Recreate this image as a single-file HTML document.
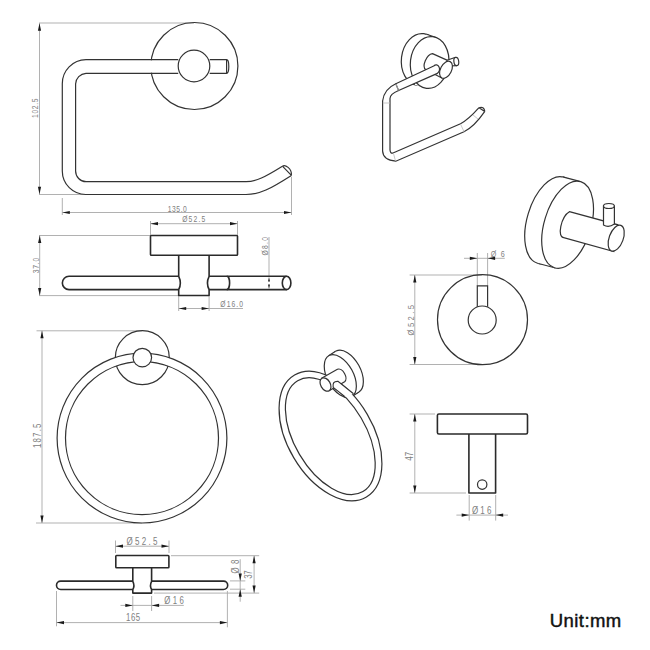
<!DOCTYPE html>
<html><head><meta charset="utf-8">
<style>
html,body{margin:0;padding:0;background:#fff;width:650px;height:650px;overflow:hidden}
svg{display:block}
.k{fill:none;stroke:#333;stroke-width:1.2}
.kb{fill:none;stroke:#2a2a2a;stroke-width:1.6;stroke-linejoin:round}
.w{fill:#fff}
.t{font-family:"Liberation Sans",sans-serif;font-size:8px;fill:#808080}
.u{font-family:"Liberation Sans",sans-serif;font-size:18.5px;fill:#111;stroke:#111;stroke-width:0.45}
</style></head>
<body>
<svg width="650" height="650" viewBox="0 0 650 650">

<path d="M39,23 L194,23" fill="none" stroke="#a8a8a8" stroke-width="0.9"/>
<path d="M39,194.5 L86,194.5" fill="none" stroke="#a8a8a8" stroke-width="0.9"/>
<path d="M62.3,198 L62.3,215" fill="none" stroke="#a8a8a8" stroke-width="0.9"/>
<path d="M291.5,177 L291.5,215" fill="none" stroke="#a8a8a8" stroke-width="0.9"/>
<path d="M39.5,23.3 L39.5,194.3" fill="none" stroke="#a8a8a8" stroke-width="0.9"/>
<path d="M39.50,23.30 L41.10,30.80 L37.90,30.80 Z" fill="#1a1a1a"/>
<path d="M39.50,194.30 L37.90,186.80 L41.10,186.80 Z" fill="#1a1a1a"/>
<path d="M62.3,212.5 L291.5,212.5" fill="none" stroke="#a8a8a8" stroke-width="0.9"/>
<path d="M62.30,212.50 L69.80,210.90 L69.80,214.10 Z" fill="#1a1a1a"/>
<path d="M291.50,212.50 L284.00,214.10 L284.00,210.90 Z" fill="#1a1a1a"/>
<text transform="translate(38.3,108.3) rotate(-90) scale(0.78,1)" x="0" y="0" text-anchor="middle" textLength="24.87" lengthAdjust="spacing" class="t" style="font-size:8.64px">102.5</text>
<text transform="translate(177.3,211.5) scale(0.78,1)" x="0" y="0" text-anchor="middle" textLength="24.36" lengthAdjust="spacing" class="t" style="font-size:8.64px">135.0</text>
<circle class="k" cx="194.4" cy="66" r="43.5"/>
<rect x="140" y="60.3" width="40" height="12.4" fill="#fff"/>
<path class="k" d="M178.2,59.7 H86 A24,24 0 0 0 62.3,84 V171 A23.5,23.5 0 0 0 86,194.5 H246 C260,194.5 270,189 291.4,175.4"/>
<path class="k" d="M178.2,73.3 H86 A11,11 0 0 0 75.6,84 V171 A10.7,10.7 0 0 0 86,181.7 H246 C256,181.7 265,177 282.4,166.2"/>
<path class="k" d="M282.4,166.2 L291.4,175.4 M282.4,166.2 C285,164.5 292,168 291.4,175.4"/>
<circle class="k w" cx="194" cy="66" r="15.8"/>
<path class="k" d="M209.7,59.7 H226.6 M209.7,73.3 H226.6 M226.6,59.7 V73.3 M226.6,59.7 A2.2,6.8 0 0 1 226.6,73.3"/>

<path d="M150.5,221 L150.5,236" fill="none" stroke="#a8a8a8" stroke-width="0.9"/>
<path d="M237.5,221 L237.5,236" fill="none" stroke="#a8a8a8" stroke-width="0.9"/>
<path d="M39,235.5 L150.5,235.5" fill="none" stroke="#a8a8a8" stroke-width="0.9"/>
<path d="M39,295.6 L178.7,295.6" fill="none" stroke="#a8a8a8" stroke-width="0.9"/>
<path d="M178.7,296 L178.7,311" fill="none" stroke="#a8a8a8" stroke-width="0.9"/>
<path d="M209.1,296 L209.1,311" fill="none" stroke="#a8a8a8" stroke-width="0.9"/>
<path d="M150.5,223.7 L237.5,223.7" fill="none" stroke="#a8a8a8" stroke-width="0.9"/>
<path d="M150.50,223.70 L158.00,222.10 L158.00,225.30 Z" fill="#1a1a1a"/>
<path d="M237.50,223.70 L230.00,225.30 L230.00,222.10 Z" fill="#1a1a1a"/>
<path d="M39.7,235.5 L39.7,295.6" fill="none" stroke="#a8a8a8" stroke-width="0.9"/>
<path d="M39.70,235.50 L41.30,243.00 L38.10,243.00 Z" fill="#1a1a1a"/>
<path d="M39.70,295.60 L38.10,288.10 L41.30,288.10 Z" fill="#1a1a1a"/>
<path d="M178.7,308.5 L209.1,308.5" fill="none" stroke="#a8a8a8" stroke-width="0.9"/>
<path d="M178.70,308.50 L186.20,306.90 L186.20,310.10 Z" fill="#1a1a1a"/>
<path d="M209.10,308.50 L201.60,310.10 L201.60,306.90 Z" fill="#1a1a1a"/>
<path d="M209.1,308.5 L243,308.5" fill="none" stroke="#a8a8a8" stroke-width="0.9"/>
<path d="M269,237 L269,276.5" fill="none" stroke="#a8a8a8" stroke-width="0.9"/>
<path d="M269.00,277.00 L270.00,281.60 L268.00,281.60 Z" fill="#1a1a1a"/>
<path d="M269.00,289.00 L268.00,284.40 L270.00,284.40 Z" fill="#1a1a1a"/>
<text transform="translate(193.7,222.3) scale(0.78,1)" x="0" y="0" text-anchor="middle" textLength="29.49" lengthAdjust="spacing" class="t" style="font-size:8.64px">Ø52.5</text>
<text transform="translate(38.8,265.5) rotate(-90) scale(0.78,1)" x="0" y="0" text-anchor="middle" textLength="19.62" lengthAdjust="spacing" class="t" style="font-size:8.64px">37.0</text>
<text transform="translate(268.4,246.2) rotate(-90) scale(0.78,1)" x="0" y="0" text-anchor="middle" textLength="23.72" lengthAdjust="spacing" class="t" style="font-size:8.64px">Ø8.0</text>
<text transform="translate(231.7,307.3) scale(0.78,1)" x="0" y="0" text-anchor="middle" textLength="29.10" lengthAdjust="spacing" class="t" style="font-size:8.64px">Ø16.0</text>
<rect class="kb" x="150.5" y="235.5" width="87" height="19.7" rx="0.8"/>
<path class="kb" d="M178.7,255.2 V276.3 Q182,283 178.7,289.6 V295.5 H209.1 V289.6 Q205.8,283 209.1,276.3 V255.2"/>
<path class="kb" d="M178.7,276.3 H69 A6.65,6.65 0 0 0 69,289.6 H178.7"/>
<path class="kb" d="M209.1,276.3 H286.6 M209.1,289.6 H286.6"/>
<ellipse class="kb" cx="286.6" cy="282.95" rx="4.3" ry="6.65"/>
<path class="kb" d="M226.8,276.3 A2.8,6.65 0 0 1 226.8,289.6"/>

<path d="M409.6,275 L482,275" fill="none" stroke="#a8a8a8" stroke-width="0.9"/>
<path d="M409.6,364.5 L482,364.5" fill="none" stroke="#a8a8a8" stroke-width="0.9"/>
<path d="M477.3,253 L477.3,286" fill="none" stroke="#a8a8a8" stroke-width="0.9"/>
<path d="M487.6,253 L487.6,286" fill="none" stroke="#a8a8a8" stroke-width="0.9"/>
<path d="M414.8,275 L414.8,364.5" fill="none" stroke="#a8a8a8" stroke-width="0.9"/>
<path d="M414.80,275.00 L416.40,282.50 L413.20,282.50 Z" fill="#1a1a1a"/>
<path d="M414.80,364.50 L413.20,357.00 L416.40,357.00 Z" fill="#1a1a1a"/>
<path d="M464,258.3 L504.8,258.3" fill="none" stroke="#a8a8a8" stroke-width="0.9"/>
<path d="M477.30,258.30 L469.80,259.90 L469.80,256.70 Z" fill="#1a1a1a"/>
<path d="M487.60,258.30 L495.10,256.70 L495.10,259.90 Z" fill="#1a1a1a"/>
<text transform="translate(414.2,320.2) rotate(-90) scale(0.78,1)" x="0" y="0" text-anchor="middle" textLength="38.97" lengthAdjust="spacing" class="t" style="font-size:9.72px">Ø52.5</text>
<text transform="translate(497.8,256.5) scale(0.78,1)" x="0" y="0" text-anchor="middle" textLength="17.95" lengthAdjust="spacing" class="t" style="font-size:9.18px">Ø6</text>
<circle class="k" cx="482.5" cy="319.7" r="45"/>
<circle class="k" cx="482.2" cy="320" r="14"/>
<path class="k" d="M477.3,306.8 V285.9 H487.6 V306.8"/>

<path d="M409.6,414 L435,414" fill="none" stroke="#a8a8a8" stroke-width="0.9"/>
<path d="M409.6,493 L466,493" fill="none" stroke="#a8a8a8" stroke-width="0.9"/>
<path d="M469.2,495 L469.2,520.6" fill="none" stroke="#a8a8a8" stroke-width="0.9"/>
<path d="M495.7,495 L495.7,520.6" fill="none" stroke="#a8a8a8" stroke-width="0.9"/>
<path d="M414.8,414 L414.8,493" fill="none" stroke="#a8a8a8" stroke-width="0.9"/>
<path d="M414.80,414.00 L416.40,421.50 L413.20,421.50 Z" fill="#1a1a1a"/>
<path d="M414.80,493.00 L413.20,485.50 L416.40,485.50 Z" fill="#1a1a1a"/>
<path d="M456.4,515.1 L508,515.1" fill="none" stroke="#a8a8a8" stroke-width="0.9"/>
<path d="M469.20,515.10 L461.70,516.70 L461.70,513.50 Z" fill="#1a1a1a"/>
<path d="M495.70,515.10 L503.20,513.50 L503.20,516.70 Z" fill="#1a1a1a"/>
<text transform="translate(412.9,456.3) rotate(-90) scale(0.78,1)" x="0" y="0" text-anchor="middle" textLength="11.54" lengthAdjust="spacing" class="t" style="font-size:10.26px">47</text>
<text transform="translate(481.7,513.8) scale(0.78,1)" x="0" y="0" text-anchor="middle" textLength="24.87" lengthAdjust="spacing" class="t" style="font-size:10.26px">Ø16</text>
<rect class="kb" x="437.4" y="414" width="90.1" height="20" rx="1.5"/>
<path class="kb" d="M468.9,434 V493 H495.6 V434"/>
<circle class="k" cx="482.2" cy="484.6" r="4.7"/>

<path d="M36.5,330.8 L142,330.8" fill="none" stroke="#a8a8a8" stroke-width="0.9"/>
<path d="M36,523 L142,523" fill="none" stroke="#a8a8a8" stroke-width="0.9"/>
<path d="M42,330.8 L42,523" fill="none" stroke="#a8a8a8" stroke-width="0.9"/>
<path d="M42.00,330.80 L43.60,338.30 L40.40,338.30 Z" fill="#1a1a1a"/>
<path d="M42.00,523.00 L40.40,515.50 L43.60,515.50 Z" fill="#1a1a1a"/>
<text transform="translate(40.8,435.8) rotate(-90) scale(0.78,1)" x="0" y="0" text-anchor="middle" textLength="31.15" lengthAdjust="spacing" class="t" style="font-size:10.04px">187.5</text>
<circle class="k" cx="142.3" cy="357.7" r="27"/>
<circle cx="142" cy="438.1" r="80.7" style="fill:none;stroke:#fff;stroke-width:8"/>
<circle class="k" cx="142" cy="438.1" r="84.9"/>
<circle class="k" cx="142" cy="438.1" r="76.5"/>
<circle class="k w" cx="142.3" cy="357.6" r="9.3"/>

<path d="M115.5,540.5 L115.5,553" fill="none" stroke="#a8a8a8" stroke-width="0.9"/>
<path d="M169,540.5 L169,553" fill="none" stroke="#a8a8a8" stroke-width="0.9"/>
<path d="M171,555.7 L259.2,555.7" fill="none" stroke="#a8a8a8" stroke-width="0.9"/>
<path d="M154,593.1 L259.2,593.1" fill="none" stroke="#a8a8a8" stroke-width="0.9"/>
<path d="M132.8,596 L132.8,611" fill="none" stroke="#a8a8a8" stroke-width="0.9"/>
<path d="M151.6,596 L151.6,611" fill="none" stroke="#a8a8a8" stroke-width="0.9"/>
<path d="M56.5,591 L56.5,626.3" fill="none" stroke="#a8a8a8" stroke-width="0.9"/>
<path d="M227.4,591 L227.4,627.3" fill="none" stroke="#a8a8a8" stroke-width="0.9"/>
<path d="M230,580.9 L245.3,580.9" fill="none" stroke="#a8a8a8" stroke-width="0.9"/>
<path d="M230,589.2 L245.3,589.2" fill="none" stroke="#a8a8a8" stroke-width="0.9"/>
<path d="M115.5,546.2 L169,546.2" fill="none" stroke="#a8a8a8" stroke-width="0.9"/>
<path d="M115.50,546.20 L123.00,544.60 L123.00,547.80 Z" fill="#1a1a1a"/>
<path d="M169.00,546.20 L161.50,547.80 L161.50,544.60 Z" fill="#1a1a1a"/>
<path d="M56.5,622.6 L227.4,622.6" fill="none" stroke="#a8a8a8" stroke-width="0.9"/>
<path d="M56.50,622.60 L64.00,621.00 L64.00,624.20 Z" fill="#1a1a1a"/>
<path d="M227.40,622.60 L219.90,624.20 L219.90,621.00 Z" fill="#1a1a1a"/>
<path d="M254.1,555.7 L254.1,593.1" fill="none" stroke="#a8a8a8" stroke-width="0.9"/>
<path d="M254.10,555.70 L255.70,563.20 L252.50,563.20 Z" fill="#1a1a1a"/>
<path d="M254.10,593.10 L252.50,585.60 L255.70,585.60 Z" fill="#1a1a1a"/>
<path d="M120.5,605.4 L183.8,605.4" fill="none" stroke="#a8a8a8" stroke-width="0.9"/>
<path d="M132.80,605.40 L125.30,607.00 L125.30,603.80 Z" fill="#1a1a1a"/>
<path d="M151.60,605.40 L159.10,603.80 L159.10,607.00 Z" fill="#1a1a1a"/>
<path d="M240.2,559.2 L240.2,601.7" fill="none" stroke="#a8a8a8" stroke-width="0.9"/>
<path d="M240.20,580.90 L238.60,573.40 L241.80,573.40 Z" fill="#1a1a1a"/>
<path d="M240.20,589.20 L241.80,596.70 L238.60,596.70 Z" fill="#1a1a1a"/>
<text transform="translate(142,545) scale(0.78,1)" x="0" y="0" text-anchor="middle" textLength="39.49" lengthAdjust="spacing" class="t" style="font-size:10.26px">Ø52.5</text>
<text transform="translate(174,603.5) scale(0.78,1)" x="0" y="0" text-anchor="middle" textLength="25.13" lengthAdjust="spacing" class="t" style="font-size:10.04px">Ø16</text>
<text transform="translate(133.1,620.8) scale(0.78,1)" x="0" y="0" text-anchor="middle" textLength="18.21" lengthAdjust="spacing" class="t" style="font-size:10.04px">165</text>
<text transform="translate(252.2,574.5) rotate(-90) scale(0.78,1)" x="0" y="0" text-anchor="middle" textLength="10.64" lengthAdjust="spacing" class="t" style="font-size:10.04px">37</text>
<text transform="translate(239.3,566.6) rotate(-90) scale(0.78,1)" x="0" y="0" text-anchor="middle" textLength="17.69" lengthAdjust="spacing" class="t" style="font-size:10.04px">Ø8</text>
<rect class="kb" x="115.8" y="555.5" width="53.1" height="12.3" rx="0.8"/>
<path class="kb" d="M132.8,567.8 V581.3 Q135,585.5 132.8,589.7 V593.1 H151.6 V589.7 Q149.4,585.5 151.6,581.3 V567.8"/>
<path class="kb" d="M132.8,581.1 H60.7 A4.2,4.2 0 0 0 60.7,589.5 H132.8 M151.6,581.1 H223.5 A4.2,4.2 0 0 1 223.5,589.5 H151.6"/>

<g>
<ellipse class="k w" cx="420.6" cy="59.5" rx="19.2" ry="26" transform="rotate(7 420.6 59.5)"/>
<path style="fill:#fff;stroke:none" d="M426.5,34.3 L435.5,37.3 L423.7,87.7 L414.7,84.7 Z"/>
<path class="k" d="M426.5,34.3 L435.5,37.3"/>
<ellipse class="k w" cx="429.6" cy="62.5" rx="19.2" ry="26" transform="rotate(7 429.6 62.5)"/>
<path style="fill:#fff;stroke:none" d="M447,60.3 L455.6,57.3 L456.9,65.7 L449,66 Z"/><path class="k" d="M447,60.3 L455.6,57.3 M449,66 L456.9,65.7"/>
<ellipse class="k w" cx="456.3" cy="61.5" rx="2.4" ry="4.2" transform="rotate(-8 456.3 61.5)"/>
<path class="k w" d="M432.5,53.6 L447,60.2 L441.8,78 L425.8,69.7 A5,9 27 0 1 432.5,53.6 Z"/>
<ellipse class="k w" cx="446" cy="69.8" rx="5.5" ry="9.2" transform="rotate(27 446 69.8)"/>
<path class="k w" d="M433.7,66 L395.8,83.7 L398.6,90.5 L437.4,73.4 A3,4 20 0 0 433.7,66 Z"/>
<path class="k" d="M395.8,83.7 Q384,89 382.6,101 V151 Q383,160 395.8,161.2 L464,131.7 Q474,127 484.8,111.4"/>
<path class="k" d="M398.6,90.5 Q390,94 390,98.5 V150 Q390.5,154 393,153 L460.5,123.8 Q468,120 479,107.7"/>
<path class="k" d="M479,107.7 L484.8,111.4 M479,107.7 Q484,106 484.8,111.4"/>
<path style="fill:none;stroke:#bbb;stroke-width:0.8" d="M396,84 L398.5,90.5 M382.8,103 H390 M393.5,153.5 L395.5,161 M460.5,124 L464,131.7 M473,115 L478,119"/>
</g>
<g>
<ellipse class="k w" cx="550.6" cy="220.2" rx="23.3" ry="45" transform="rotate(17 550.6 220.2)"/>
<path style="fill:#fff;stroke:none" d="M562.7,176.9 L579.7,181.4 L555.5,268 L538.5,263.5 Z"/>
<path class="k" d="M562.7,176.9 L579.7,181.4 M538.5,263.5 L555.5,268"/>
<ellipse class="k w" cx="567.6" cy="224.7" rx="23.3" ry="45" transform="rotate(17 567.6 224.7)"/>
<path class="k w" d="M569.4,211.7 L617.9,224.8 L613.8,251.5 L563.7,237.7 A6,14 20 0 1 569.4,211.7 Z"/>
<path class="k w" d="M603.5,206 V225 Q608.7,228 614.4,224 V206 Z"/>
<ellipse class="k w" cx="608.9" cy="206" rx="5.4" ry="2.5"/>
<ellipse class="k w" cx="616.2" cy="238.2" rx="7" ry="13.6" transform="rotate(20 616.2 238.2)"/>
</g>
<g>
<ellipse class="k w" cx="347.3" cy="371.6" rx="13.06" ry="23.43" transform="rotate(-28.7 347.3 371.6)"/>
<path style="fill:#fff;stroke:none" d="M328.6,355.8 L335.6,351.3 L359,391.9 L352,396.4 Z"/>
<path class="k" d="M328.6,355.8 L335.6,351.3 M352,396.4 L359,391.9"/>
<ellipse class="k w" cx="340.3" cy="376.1" rx="13.06" ry="23.43" transform="rotate(-28.7 340.3 376.1)"/>
<ellipse cx="330.4" cy="436.1" rx="39.25" ry="67.55" transform="rotate(-30.5 330.4 436.1)" style="fill:none;stroke:#fff;stroke-width:7"/>
<ellipse class="k" cx="330.5" cy="436" rx="42.7" ry="70.8" transform="rotate(-30.5 330.5 436)"/>
<ellipse class="k" cx="330.3" cy="436.2" rx="35.8" ry="64.3" transform="rotate(-30.5 330.3 436.2)"/>
<path class="k w" d="M322,378 L337.4,369.3 A4.5,7.2 -30 0 1 344.6,381.7 L329.1,390.7 Z"/>
<path style="fill:#fff;stroke:none" d="M333.2,387.4 Q332,381 338,381.4 L354,393.8 L345,396.6 Z"/>
<path class="k" d="M333.2,387.4 Q332,381 338,381.4 L353.5,393.8 M333.2,387.4 L344.6,396.4"/>
<ellipse class="k w" cx="325.5" cy="384.5" rx="4.8" ry="7.2" transform="rotate(-30 325.5 384.5)"/>
</g>
<text class="u" x="549.8" y="627.3" style="letter-spacing:0.42px">Unit:mm</text>
</svg>
</body></html>
